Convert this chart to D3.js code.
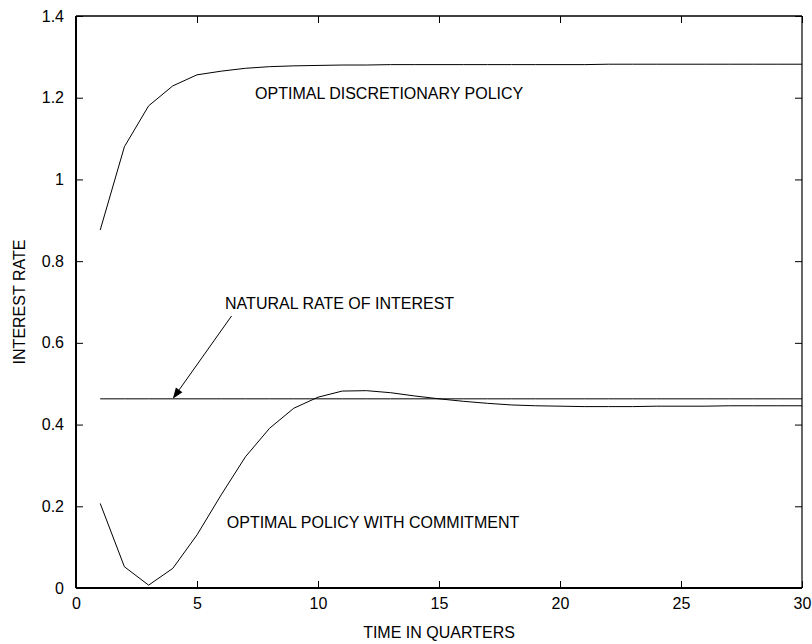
<!DOCTYPE html>
<html>
<head>
<meta charset="utf-8">
<script src="https://cdn.jsdelivr.net/npm/d3@7"></script>
<style>
  body { margin: 0; background: #fff; }
  text { font-family: "Liberation Sans", Arial, Helvetica, sans-serif; fill: #000; }
</style>
</head>
<body>
<div class="container"></div>
<script>
// chart data
var quarters = d3.range(1, 31);

var discretionary = [0.876, 1.080, 1.180, 1.229, 1.256, 1.265, 1.272, 1.276, 1.278, 1.279,
                     1.280, 1.280, 1.281, 1.281, 1.281, 1.281, 1.281, 1.281, 1.281, 1.281,
                     1.281, 1.282, 1.282, 1.282, 1.282, 1.282, 1.282, 1.282, 1.282, 1.282];

var commitment = [0.207, 0.052, 0.007, 0.048, 0.130, 0.228, 0.321, 0.391, 0.440, 0.467,
                  0.482, 0.483, 0.478, 0.470, 0.463, 0.457, 0.452, 0.448, 0.446, 0.445,
                  0.444, 0.444, 0.444, 0.445, 0.445, 0.445, 0.446, 0.446, 0.446, 0.446];

var naturalRate = quarters.map(function() { return 0.463; });

var xTicks = [0, 5, 10, 15, 20, 25, 30];
var yTicks = [0, 0.2, 0.4, 0.6, 0.8, 1, 1.2, 1.4];

//Width and height
var w = 812;
var h = 644;
var margin = {top: 16, right: 10, bottom: 56, left: 76};
var iw = w - margin.left - margin.right;
var ih = h - margin.top - margin.bottom;

var x = d3.scaleLinear().domain([0, 30]).range([0, iw]);
var y = d3.scaleLinear().domain([0, 1.4]).range([ih, 0]);

var svg = d3.select(".container")
    .append("svg")
    .attr("width", w)
    .attr("height", h);

var g = svg.append("g")
    .attr("transform", "translate(" + margin.left + "," + margin.top + ")");

// ticks on all four sides, pointing inward
var tickLen = 7;

var bottomAxis = g.append("g")
    .attr("transform", "translate(0," + ih + ")")
    .call(d3.axisBottom(x).tickValues(xTicks).tickSizeInner(-tickLen).tickSizeOuter(0)
        .tickPadding(10).tickFormat(d3.format("d")));

var leftAxis = g.append("g")
    .call(d3.axisLeft(y).tickValues(yTicks).tickSizeInner(-tickLen).tickSizeOuter(0)
        .tickPadding(12).tickFormat(function(d) { return d3.format("~g")(d); }));

var topAxis = g.append("g")
    .call(d3.axisTop(x).tickValues(xTicks).tickSizeInner(-tickLen).tickSizeOuter(0)
        .tickFormat(""));

var rightAxis = g.append("g")
    .attr("transform", "translate(" + iw + ",0)")
    .call(d3.axisRight(y).tickValues(yTicks).tickSizeInner(-tickLen).tickSizeOuter(0)
        .tickFormat(""));

[bottomAxis, leftAxis, topAxis, rightAxis].forEach(function(a) {
  a.selectAll(".domain").remove();
  a.selectAll("line").attr("stroke", "#000").attr("stroke-width", 1);
  a.selectAll("text")
    .attr("font-size", "16px")
    .attr("font-family", "'Liberation Sans', Arial, sans-serif")
    .attr("fill", "#000");
});

// frame
g.append("line").attr("x1", 0).attr("x2", iw).attr("y1", ih).attr("y2", ih)
    .attr("stroke", "#000").attr("stroke-width", 2);
g.append("line").attr("x1", 0).attr("x2", 0).attr("y1", 0).attr("y2", ih)
    .attr("stroke", "#000").attr("stroke-width", 2);
g.append("line").attr("x1", 0).attr("x2", iw).attr("y1", 0).attr("y2", 0)
    .attr("stroke", "#000").attr("stroke-width", 1.6);
g.append("line").attr("x1", iw).attr("x2", iw).attr("y1", 0).attr("y2", ih)
    .attr("stroke", "#000").attr("stroke-width", 1.2);

// series
var line = d3.line()
    .x(function(d, i) { return x(quarters[i]); })
    .y(function(d) { return y(d); });

[discretionary, naturalRate, commitment].forEach(function(s) {
  g.append("path")
    .datum(s)
    .attr("fill", "none")
    .attr("stroke", "#000")
    .attr("stroke-width", 1)
    .attr("d", line);
});

// annotations
function label(tx, ty, str) {
  g.append("text")
    .attr("x", x(tx))
    .attr("y", y(ty))
    .attr("font-size", "16px")
    .text(str);
}
label(7.4, 1.197, "OPTIMAL DISCRETIONARY POLICY");
label(6.16, 0.684, "NATURAL RATE OF INTEREST");
label(6.23, 0.146, "OPTIMAL POLICY WITH COMMITMENT");

// arrow pointing at the natural rate line
var tip = [x(4), y(naturalRate[0])];
var tail = [x(6.43), y(0.666)];
var ang = Math.atan2(tip[1] - tail[1], tip[0] - tail[0]);
var headLen = 11, headW = 4;
var base = [tip[0] - headLen * Math.cos(ang), tip[1] - headLen * Math.sin(ang)];
g.append("line")
    .attr("x1", tail[0]).attr("y1", tail[1])
    .attr("x2", base[0]).attr("y2", base[1])
    .attr("stroke", "#000").attr("stroke-width", 1);
g.append("path")
    .attr("d", "M" + tip[0] + "," + tip[1] +
      "L" + (base[0] + headW * Math.sin(ang)) + "," + (base[1] - headW * Math.cos(ang)) +
      "L" + (base[0] - headW * Math.sin(ang)) + "," + (base[1] + headW * Math.cos(ang)) + "Z")
    .attr("fill", "#000");

// axis titles
svg.append("text")
    .attr("x", margin.left + iw / 2)
    .attr("y", 638)
    .attr("text-anchor", "middle")
    .attr("font-size", "16px")
    .text("TIME IN QUARTERS");

svg.append("text")
    .attr("transform", "translate(25," + (margin.top + ih / 2) + ") rotate(-90)")
    .attr("text-anchor", "middle")
    .attr("font-size", "16px")
    .text("INTEREST RATE");
</script>
</body>
</html>
